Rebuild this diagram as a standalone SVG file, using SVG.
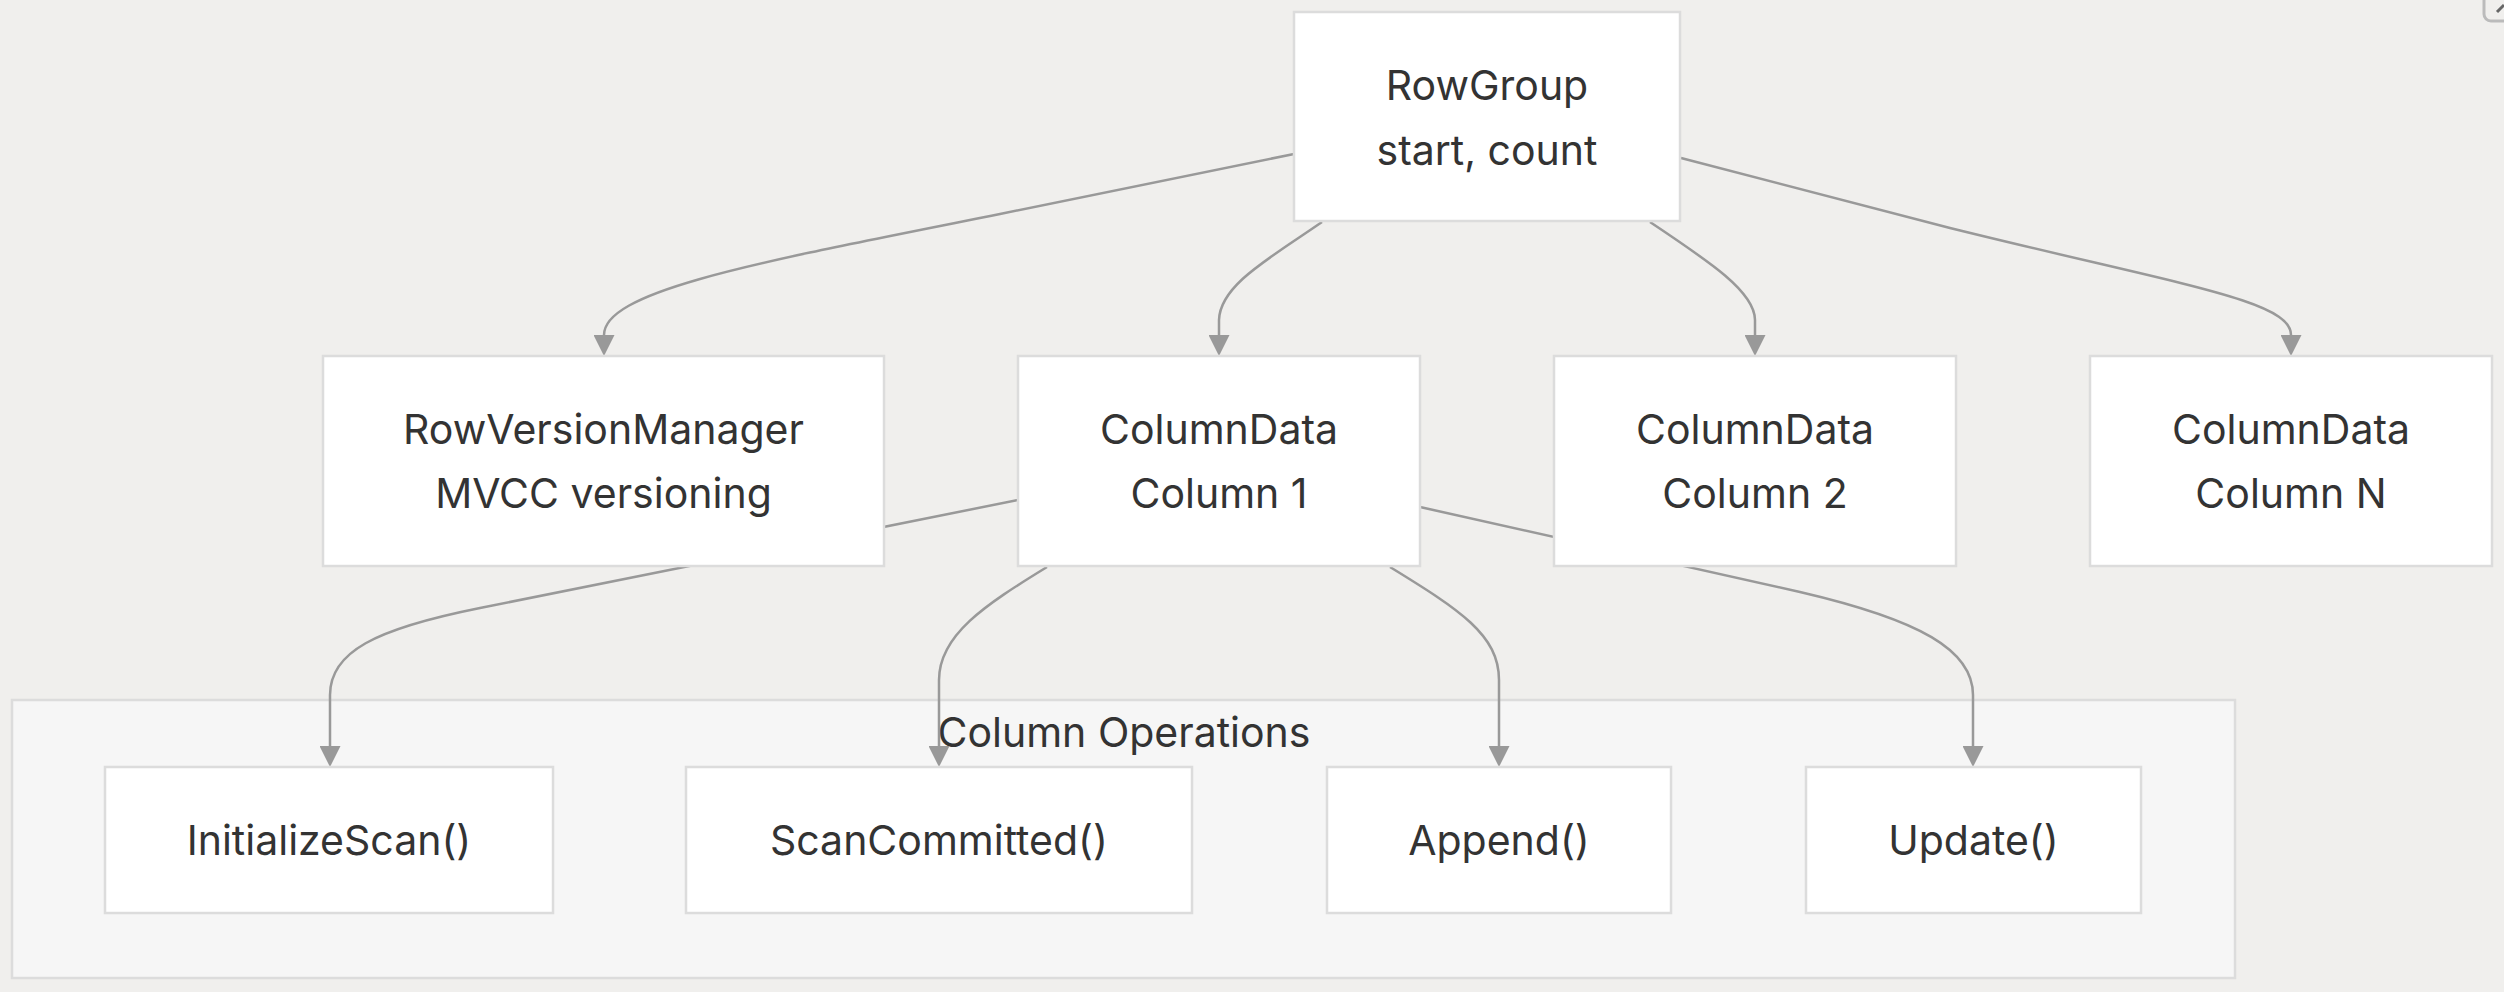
<svg xmlns="http://www.w3.org/2000/svg" width="2504" height="992" viewBox="0 0 2504 992">
  <style>
    .node rect { fill: #ffffff; stroke: #dcdcdc; stroke-width: 2.5; }
    .cluster rect { fill: #f6f6f6; stroke: #dcdcdc; stroke-width: 2.5; }
    text { font-family: Inter, "Liberation Sans", sans-serif; font-size: 41px; fill: #333333; text-anchor: middle; }
    .edge { fill: none; stroke: #999999; stroke-width: 2.5; }
  </style>
  <defs>
    <marker id="arrow" markerUnits="userSpaceOnUse" markerWidth="21" markerHeight="21" refX="0" refY="10.5" orient="auto">
      <path d="M0,0 L21,10.5 L0,21 Z" fill="#999999"/>
    </marker>
  </defs>
  <rect x="0" y="0" width="2504" height="992" fill="#f0efed"/>
  <g id="ui-corner">
    <rect x="2484" y="-20" width="40" height="41" rx="7" fill="none" stroke="#bbbbbb" stroke-width="3"/>
    <path d="M2497,12 L2504,5" stroke="#666666" stroke-width="3" fill="none"/>
  </g>

  <g id="cluster-column-operations" class="cluster">
    <rect x="12" y="700" width="2223" height="278"/>
    <text x="1124" y="747">Column Operations</text>
  </g>

  <g id="connectors">
    <path class="edge" marker-end="url(#arrow)" d="M1294,154 L1000,214 C760,262 604,290 604,335"/>
    <path class="edge" marker-end="url(#arrow)" d="M1322,222 C1270,258 1220,285 1219,320 L1219,335"/>
    <path class="edge" marker-end="url(#arrow)" d="M1650,222 C1710,262 1755,292 1755,320 L1755,335"/>
    <path class="edge" marker-end="url(#arrow)" d="M1681,158 L1950,228 C2180,285 2291,300 2291,335"/>
    <path class="edge" marker-end="url(#arrow)" d="M1018,500 L480,608 C375,629 330,652 330,695 L330,746"/>
    <path class="edge" marker-end="url(#arrow)" d="M1047,567 C985,605 939,635 939,680 L939,746"/>
    <path class="edge" marker-end="url(#arrow)" d="M1390,567 C1460,610 1499,635 1499,680 L1499,746"/>
    <path class="edge" marker-end="url(#arrow)" d="M1420,507 L1800,592 C1920,620 1973,650 1973,695 L1973,746"/>
  </g>

  <g id="node-rowgroup" class="node">
    <rect x="1294" y="12" width="386" height="209"/>
    <text x="1487" y="100">RowGroup</text>
    <text x="1487" y="165">start, count</text>
  </g>
  <g id="node-rowversionmanager" class="node">
    <rect x="323" y="356" width="561" height="210"/>
    <text x="603.5" y="444">RowVersionManager</text>
    <text x="603.5" y="508">MVCC versioning</text>
  </g>
  <g id="node-columndata1" class="node">
    <rect x="1018" y="356" width="402" height="210"/>
    <text x="1219" y="444">ColumnData</text>
    <text x="1219" y="508">Column 1</text>
  </g>
  <g id="node-columndata2" class="node">
    <rect x="1554" y="356" width="402" height="210"/>
    <text x="1755" y="444">ColumnData</text>
    <text x="1755" y="508">Column 2</text>
  </g>
  <g id="node-columndataN" class="node">
    <rect x="2090" y="356" width="402" height="210"/>
    <text x="2291" y="444">ColumnData</text>
    <text x="2291" y="508">Column N</text>
  </g>
  <g id="node-initializescan" class="node">
    <rect x="105" y="767" width="448" height="146"/>
    <text x="329" y="855">InitializeScan()</text>
  </g>
  <g id="node-scancommitted" class="node">
    <rect x="686" y="767" width="506" height="146"/>
    <text x="939" y="855">ScanCommitted()</text>
  </g>
  <g id="node-append" class="node">
    <rect x="1327" y="767" width="344" height="146"/>
    <text x="1499" y="855">Append()</text>
  </g>
  <g id="node-update" class="node">
    <rect x="1806" y="767" width="335" height="146"/>
    <text x="1973.5" y="855">Update()</text>
  </g>
</svg>
